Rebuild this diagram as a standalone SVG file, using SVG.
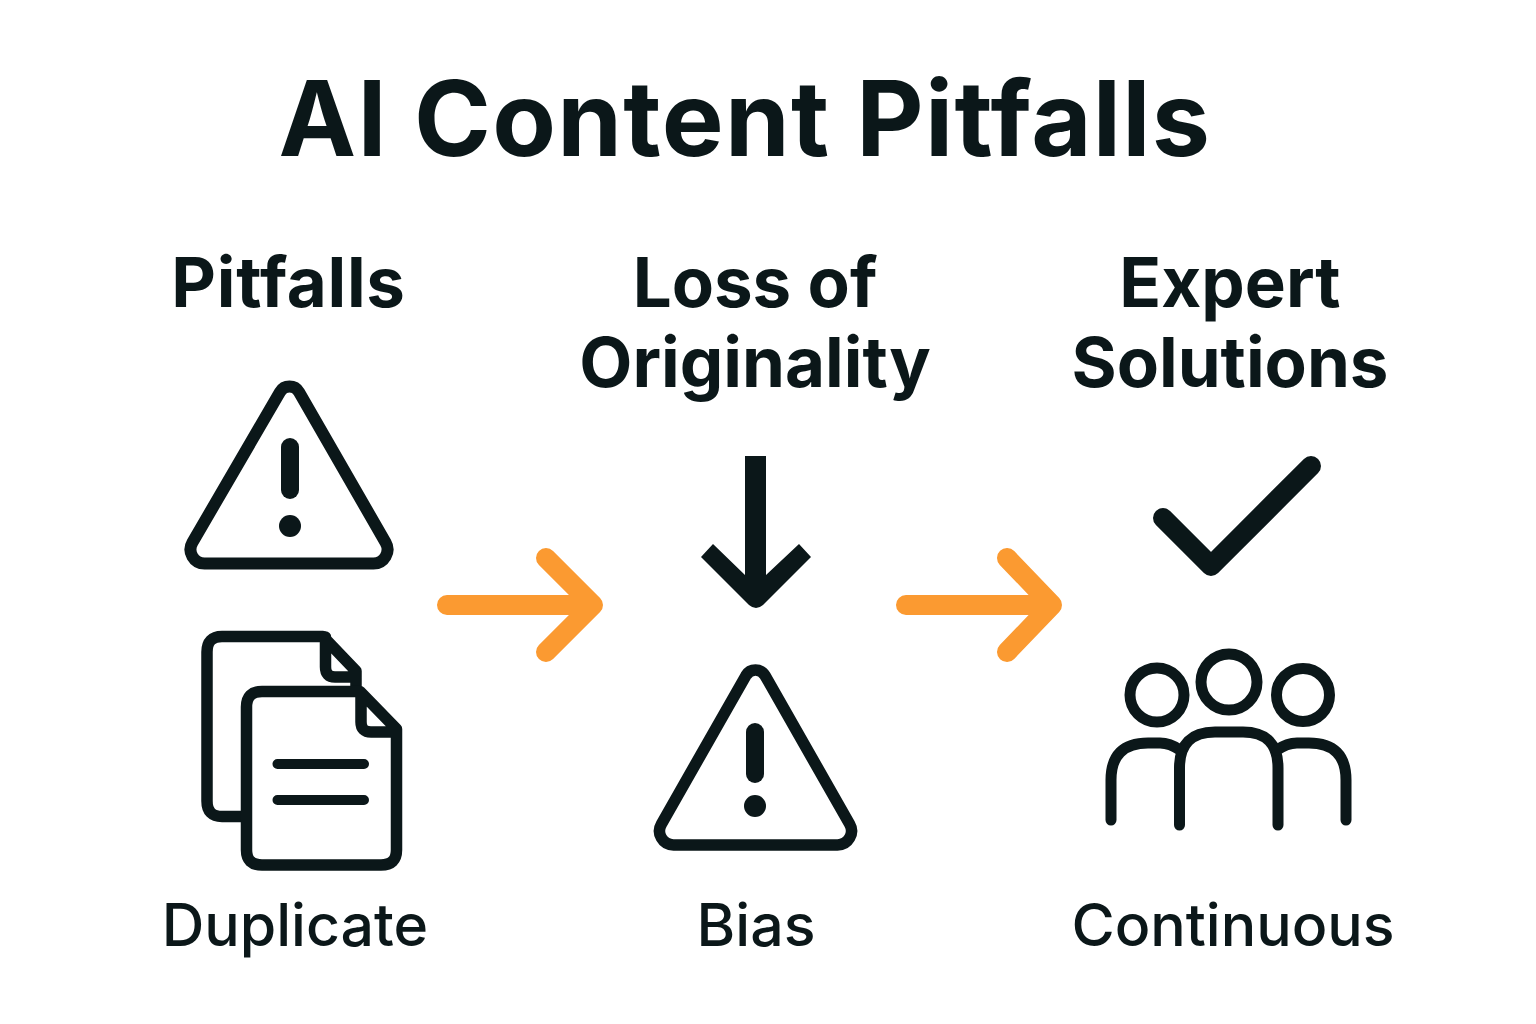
<svg xmlns="http://www.w3.org/2000/svg" width="1536" height="1024" viewBox="0 0 1536 1024">
<style>
text{font-family:Inter,"Liberation Sans",sans-serif;fill:#0b1719;text-anchor:middle}
.t{font-size:104px;font-weight:700;letter-spacing:1.300px}
.h{font-size:69px;font-weight:700}
.l{font-size:59px;font-weight:500}
.i{fill:none;stroke:#0b1719;stroke-width:11.500;stroke-linecap:round;stroke-linejoin:round}
.f{fill:#0b1719;stroke:none}
.a{fill:none;stroke:#fb9a31;stroke-width:20;stroke-linecap:round;stroke-linejoin:round}
</style>
<rect width="1536" height="1024" fill="#fff"/>
<g id="title"><text class="t" x="745" y="156">AI Content Pitfalls</text></g>
<g id="pitfalls">
<text class="h" x="288.500" y="307" style="letter-spacing:.7px">Pitfalls</text>
<path class="i" style="stroke-width:12" d="M280 392A11 11 0 0 1 299 392L385.600 542.500A14 14 0 0 1 373.500 563.500H204.500A14 14 0 0 1 192.400 542.500Z"/>
<rect class="f" x="281" y="438" width="18" height="61" rx="9"/>
<circle class="f" cx="290" cy="526" r="11"/>
</g>
<g id="duplicate">
<path class="i" d="M243 816.500H222Q207 816.500 207 801V652Q207 636.500 222 636.500H323L356 671V686M325.500 637V667Q325.500 677 335 677H356"/>
<path class="i" d="M262 691.500H360L396.500 729V850Q396.500 865 381 865H262Q246.500 865 246.500 850V707Q246.500 691.500 262 691.500ZM361 693V722Q361 732 371 732H396"/>
<path class="i" style="stroke-width:10" d="M277.500 764H364M277.500 800H364"/>
<text class="l" x="295" y="946">Duplicate</text>
</g>
<g id="loss-of-originality">
<text class="h" x="755" y="307">Loss of</text>
<text class="h" x="755" y="387">Originality</text>
<path class="f" d="M745 456H766V575L799 544L811 557L763 605Q756 611 749 605L701 557L713 544L745 575Z"/>
</g>
<g id="bias">
<path class="i" d="M746 675.500A11 11 0 0 1 765 675.500L849.600 824A14 14 0 0 1 837.500 845H673.500A14 14 0 0 1 661.400 824Z"/>
<rect class="f" x="746" y="723" width="18" height="60" rx="9"/>
<circle class="f" cx="755" cy="806" r="11"/>
<text class="l" x="756" y="946">Bias</text>
</g>
<g id="expert-solutions">
<text class="h" x="1230" y="307">Expert</text>
<text class="h" x="1230" y="387">Solutions</text>
<path class="i" style="stroke-width:20" d="M1163 518L1211 566L1311 466"/>
</g>
<g id="continuous">
<g class="i" style="stroke-width:11">
<circle cx="1157" cy="695" r="27"/>
<circle cx="1229" cy="682" r="28"/>
<circle cx="1303" cy="695" r="26.500"/>
<path d="M1179.500 825V768Q1179.500 732 1215 732H1243Q1278 732 1278 768V825"/>
<path d="M1111 820V780Q1111 743 1148 743H1160Q1170 743 1180 750"/>
<path d="M1346 820V780Q1346 743 1309 743H1297Q1287 743 1277 750"/>
</g>
<text class="l" x="1233" y="946">Continuous</text>
</g>
<g id="connectors">
<path class="a" d="M447 605H593M546 558L593 605L546 652"/>
<path class="a" d="M906 605H1052M1007 558L1052 605L1007 652"/>
</g>
</svg>
